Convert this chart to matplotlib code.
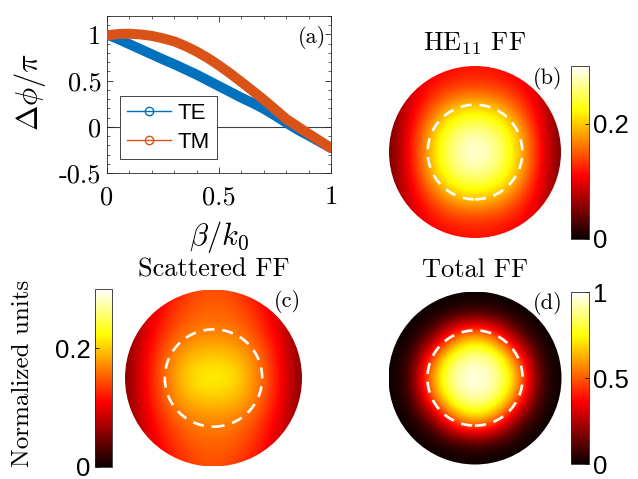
import matplotlib
matplotlib.use("Agg")
import matplotlib.pyplot as plt
from matplotlib.lines import Line2D
from matplotlib.patches import Circle
from matplotlib.ticker import MultipleLocator
import numpy as np

plt.rcParams["font.family"] = "serif"
plt.rcParams["font.serif"] = ["cmr10"]
plt.rcParams["mathtext.fontset"] = "cm"
plt.rcParams["axes.unicode_minus"] = False

# (a) phase difference vs beta/k0
beta = [0.0, 0.05, 0.1, 0.15, 0.2, 0.25, 0.3, 0.35, 0.4, 0.45, 0.5,
        0.55, 0.6, 0.65, 0.7, 0.75, 0.8, 0.85, 0.9, 0.95, 1.0]
dphi_te = [1.0, 0.95, 0.895, 0.84, 0.785, 0.73, 0.678, 0.622, 0.565, 0.503, 0.44,
           0.378, 0.315, 0.258, 0.195, 0.122, 0.045, -0.03, -0.095, -0.162, -0.23]
dphi_tm = [0.99, 1.005, 1.008, 1.0, 0.985, 0.958, 0.925, 0.875, 0.815, 0.745, 0.665,
           0.578, 0.485, 0.39, 0.293, 0.19, 0.085, 0.005, -0.075, -0.152, -0.23]
xticks_a = [0, 0.5, 1]
yticks_a = [-0.5, 0, 0.5, 1]

# far-field maps: one quadrant each, rows = |y| steps of 0.25 from centre, cols = |x| steps
he11_q = [
    [0.300, 0.275, 0.205, 0.115, 0.040],
    [0.275, 0.255, 0.195, 0.110, 0.040],
    [0.215, 0.200, 0.150, 0.095, 0.045],
    [0.140, 0.135, 0.118, 0.088, 0.050],
    [0.115, 0.110, 0.100, 0.080, 0.060],
]
scat_q = [
    [0.225, 0.215, 0.170, 0.115, 0.050],
    [0.200, 0.195, 0.165, 0.110, 0.050],
    [0.168, 0.165, 0.140, 0.098, 0.052],
    [0.155, 0.150, 0.128, 0.090, 0.055],
    [0.145, 0.138, 0.110, 0.080, 0.055],
]
total_q = [
    [1.00, 0.94, 0.66, 0.07, 0.00],
    [0.94, 0.87, 0.48, 0.04, 0.00],
    [0.66, 0.48, 0.12, 0.00, 0.00],
    [0.07, 0.04, 0.00, 0.00, 0.00],
    [0.00, 0.00, 0.00, 0.00, 0.00],
]
na_ratio = 0.55  # dashed circle radius (relative)

maps = [
    ("HE$_{11}$ FF", "(b)", he11_q, 0.30, [0, 0.2], ["0", "0.2"]),
    ("Scattered FF", "(c)", scat_q, 0.30, [0, 0.2], ["0", "0.2"]),
    ("Total FF", "(d)", total_q, 1.0, [0, 0.5, 1], ["0", "0.5", "1"]),
]

W, H = 638, 479
def box(x0, y0, x1, y1):
    return [x0 / W, 1 - y1 / H, (x1 - x0) / W, (y1 - y0) / H]

fig = plt.figure(figsize=(6.38, 4.79), dpi=100)

# ---- panel (a)
ax = fig.add_axes(box(107, 16, 331, 173))
te_c, tm_c = "#0072BD", "#D95319"
ax.axhline(0, color="#404040", lw=0.8, zorder=1)
ax.plot(beta, dphi_te, color=te_c, lw=7.2, solid_capstyle="round", solid_joinstyle="round", zorder=2)
ax.plot(beta, dphi_tm, color=tm_c, lw=7.2, solid_capstyle="round", solid_joinstyle="round", zorder=3)
ax.set_xlim(0, 1)
ax.set_ylim(-0.5, 1.2)
ax.set_xticks(xticks_a)
ax.set_xticklabels(["0", "0.5", "1"])
ax.set_yticks(yticks_a)
ax.set_yticklabels(["-0.5", "0", "0.5", "1"])
ax.xaxis.set_minor_locator(MultipleLocator(0.1))
ax.yaxis.set_minor_locator(MultipleLocator(0.1))
ax.tick_params(which="both", direction="in", top=True, right=True, color="#262626")
ax.tick_params(which="major", length=4, width=0.6, labelsize=19)
ax.tick_params(which="minor", length=2, width=0.5)
ax.tick_params(axis="x", pad=9)
ax.tick_params(axis="y", pad=4)
for s in ax.spines.values():
    s.set_linewidth(0.6)
    s.set_color("#262626")
ax.text(0.98, 0.86, "(a)", transform=ax.transAxes, ha="right", va="center", fontsize=16)
handles = [
    Line2D([], [], color=te_c, lw=1, marker="o", mfc="none", ms=6, label="TE"),
    Line2D([], [], color=tm_c, lw=1, marker="o", mfc="none", ms=6, label="TM"),
]
leg = ax.legend(handles=handles, loc="upper left", bbox_to_anchor=(0.058, 0.49),
                borderaxespad=0, fancybox=False, framealpha=1, edgecolor="#262626",
                prop={"family": "Liberation Sans", "size": 16}, handlelength=2.0,
                handletextpad=0.3, labelspacing=0.35, borderpad=0.3)
leg.get_frame().set_linewidth(0.6)
fig.text(30 / W, 1 - 92 / H, r"$\Delta\phi/\pi$", rotation=90, ha="center", va="center", fontsize=22)
fig.text(219 / W, 1 - 237 / H, r"$\beta/k_0$", ha="center", va="center", fontsize=22)

# ---- maps
map_boxes = [box(389, 66, 561, 238), box(125, 289.5, 302, 466.5), box(388.5, 291.5, 561.5, 464.5)]
cbar_boxes = [box(571, 66, 589, 239), box(95, 289, 112, 467), box(571, 292, 589, 464)]
title_y = [44, 270, 270]
idx = [4, 3, 2, 1, 0, 1, 2, 3, 4]

for (title, tag, q, vmax, cticks, clabels), mb, cb, ty in zip(maps, map_boxes, cbar_boxes, title_y):
    mx = fig.add_axes(mb)
    full = np.asarray(q)[np.ix_(idx, idx)]
    im = mx.imshow(full, extent=(-1.125, 1.125, -1.125, 1.125), origin="upper",
                   cmap="hot", vmin=0, vmax=vmax, interpolation="bicubic")
    im.set_clip_path(Circle((0, 0), 1.0, transform=mx.transData))
    mx.add_patch(Circle((0, 0), na_ratio, fill=False, ec="white", lw=1.9,
                        ls=(0, (4.2, 3.0))))
    mx.set_xlim(-1, 1)
    mx.set_ylim(-1, 1)
    mx.set_aspect("equal")
    mx.axis("off")
    fig.text(mb[0] + mb[2] / 2, 1 - ty / H, title, ha="center", va="center", fontsize=19)
    mx.text(0.92, 0.93, tag, transform=mx.transAxes, ha="center", va="center", fontsize=16)

    cax = fig.add_axes(cb)
    cbar = fig.colorbar(im, cax=cax, ticks=cticks)
    cbar.ax.set_yticklabels(clabels, family="Liberation Sans")
    cbar.outline.set_linewidth(0.6)
    cbar.outline.set_edgecolor("#262626")
    cax.tick_params(direction="in", length=3, width=0.6, labelsize=18.5, pad=3)
    if tag == "(c)":
        cax.yaxis.set_ticks_position("left")
        cax.yaxis.set_label_position("left")

fig.text(23 / W, 1 - 373 / H, "Normalized units", rotation=90, ha="center", va="center", fontsize=18)

fig.savefig("out.png", dpi=100)
